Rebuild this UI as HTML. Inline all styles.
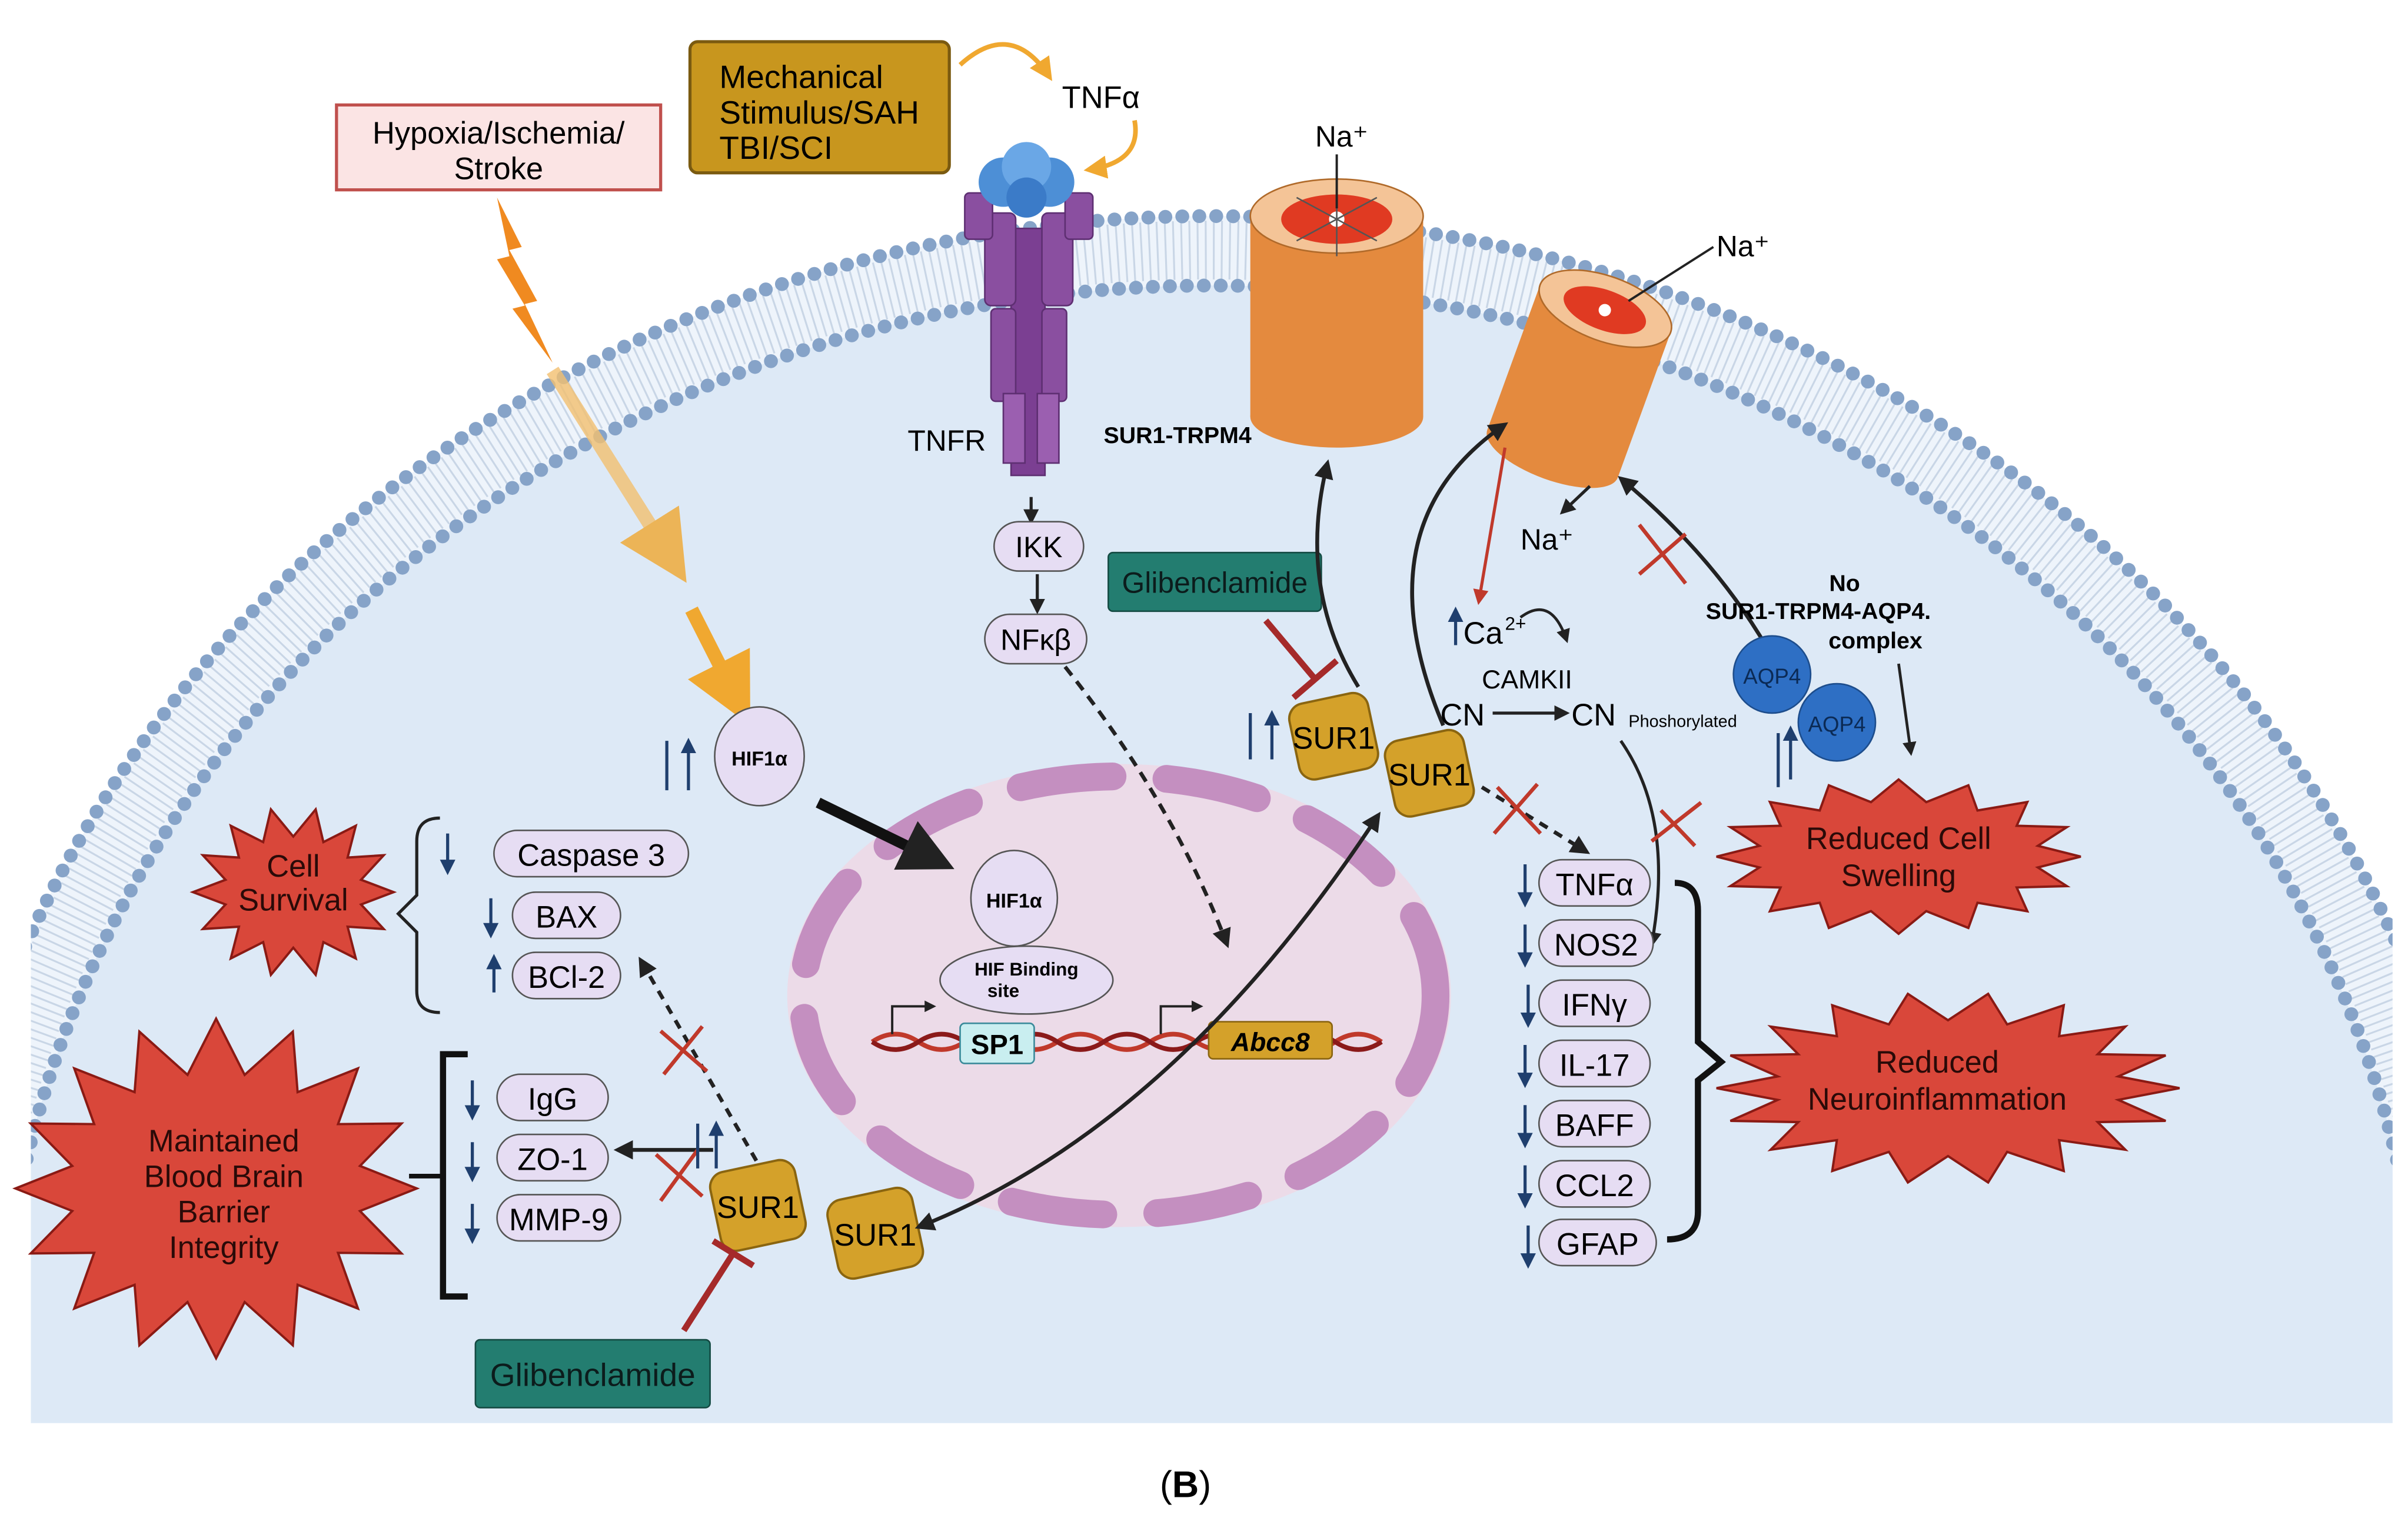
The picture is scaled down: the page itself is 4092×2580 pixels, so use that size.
<!DOCTYPE html>
<html><head><meta charset="utf-8"><style>
html,body{margin:0;padding:0;background:#fff;overflow:hidden;width:4092px;height:2580px;}
svg{display:block;}
text{font-family:"Liberation Sans",sans-serif;}
</style></head><body>
<svg width="4092" height="2580" viewBox="0 0 1560 983.5" preserveAspectRatio="none" xmlns="http://www.w3.org/2000/svg">
<defs>
<clipPath id="cl"><rect x="20" y="0" width="1530" height="922"/></clipPath>
<marker id="ab" viewBox="0 0 10 10" refX="8" refY="5" markerWidth="5" markerHeight="5" orient="auto"><path d="M0,0L10,5L0,10z" fill="#222"/></marker>
<marker id="ar" viewBox="0 0 10 10" refX="8" refY="5" markerWidth="5" markerHeight="5" orient="auto"><path d="M0,0L10,5L0,10z" fill="#c0392b"/></marker>
<marker id="ao" viewBox="0 0 10 10" refX="8" refY="5" markerWidth="5" markerHeight="5" orient="auto"><path d="M0,0L10,5L0,10z" fill="#f0a830"/></marker>
<marker id="abl" viewBox="0 0 10 10" refX="8" refY="5" markerWidth="5" markerHeight="5" orient="auto"><path d="M0,0L10,5L0,10z" fill="#1f3f6e"/></marker>
<marker id="abs" viewBox="0 0 10 10" refX="2" refY="5" markerWidth="5" markerHeight="5" orient="auto"><path d="M10,0L0,5L10,10z" fill="#222"/></marker>
</defs>
<rect width="1560" height="983.5" fill="#fff"/>
<g clip-path="url(#cl)">
 <ellipse cx="785" cy="900" rx="830" ry="760" fill="#eef4fb"/>
 <ellipse cx="785" cy="900" rx="808" ry="738" fill="none" stroke="#c9d6e6" stroke-width="38" stroke-dasharray="1.2 4"/>
 <ellipse cx="785" cy="900" rx="785" ry="715" fill="#dde9f6"/>
 <ellipse cx="785" cy="900" rx="830" ry="760" fill="none" stroke="#86a3c8" stroke-width="9" stroke-linecap="round" stroke-dasharray="0 11"/>
 <ellipse cx="785" cy="900" rx="785" ry="715" fill="none" stroke="#86a3c8" stroke-width="9" stroke-linecap="round" stroke-dasharray="0 11"/>
</g>
<!-- nucleus -->
<ellipse cx="725" cy="645" rx="215" ry="150" fill="#ecdbe8"/>
<ellipse cx="725" cy="645" rx="205" ry="142" fill="none" stroke="#c48fc0" stroke-width="18" stroke-linecap="round" stroke-dasharray="60 35"/>
<!-- hypoxia -->
<rect x="218" y="68" width="210" height="55" fill="#fbe4e4" stroke="#c0504d" stroke-width="2"/>
<text x="323" y="93" font-size="20" text-anchor="middle">Hypoxia/Ischemia/</text>
<text x="323" y="116" font-size="20" text-anchor="middle">Stroke</text>
<path d="M322,128 L338,160 L330,162 L348,195 L340,197 L358,235 L332,200 L340,198 L322,168 L330,166 Z" fill="#f08a20"/>
<path d="M358,240 L440,370" stroke="#f3c070" stroke-width="9" opacity="0.8" marker-end="url(#ao)"/>
<path d="M448,395 L482,462" stroke="#f0a830" stroke-width="9" marker-end="url(#ao)"/>
<!-- mechanical -->
<rect x="447" y="27" width="168" height="85" rx="5" fill="#c8961e" stroke="#7a5a10" stroke-width="2"/>
<text x="466" y="57" font-size="21">Mechanical</text>
<text x="466" y="80" font-size="21">Stimulus/SAH</text>
<text x="466" y="103" font-size="21">TBI/SCI</text>
<path d="M622,42 Q655,12 680,50" fill="none" stroke="#f0a830" stroke-width="3" marker-end="url(#ao)"/>
<text x="688" y="70" font-size="20">TNFα</text>
<path d="M735,78 Q740,105 705,110" fill="none" stroke="#f0a830" stroke-width="3" marker-end="url(#ao)"/>
<!-- TNFR -->
<g fill="#8a4fa0" stroke="#5e2f72" stroke-width="1">
<rect x="655" y="148" width="22" height="160" fill="#7b3f92"/>
<rect x="638" y="138" width="20" height="60" rx="4"/>
<rect x="675" y="138" width="20" height="60" rx="4"/>
<rect x="625" y="125" width="18" height="30" rx="3"/>
<rect x="690" y="125" width="18" height="30" rx="3"/>
<rect x="642" y="200" width="16" height="60" rx="3"/>
<rect x="675" y="200" width="16" height="60" rx="3"/>
<rect x="650" y="255" width="14" height="45" fill="#9b5fb0"/>
<rect x="672" y="255" width="14" height="45" fill="#9b5fb0"/>
</g>
<circle cx="650" cy="118" r="16" fill="#4d8fd6"/><circle cx="680" cy="118" r="16" fill="#4d8fd6"/><circle cx="665" cy="108" r="16" fill="#6aa7e6"/><circle cx="665" cy="128" r="13" fill="#3b7bc8"/>
<text x="588" y="292" font-size="19">TNFR</text>
<path d="M668,322 L668,338" stroke="#222" stroke-width="2" marker-end="url(#ab)"/>
<rect x="644" y="338" width="58" height="32" rx="16" fill="#e6ddf3" stroke="#555"/>
<text x="673" y="361" font-size="19" text-anchor="middle">IKK</text>
<path d="M672,372 L672,396" stroke="#222" stroke-width="2" marker-end="url(#ab)"/>
<rect x="638" y="398" width="66" height="32" rx="16" fill="#e6ddf3" stroke="#555"/>
<text x="671" y="421" font-size="19" text-anchor="middle">NFκβ</text>
<path d="M690,432 Q760,520 795,612" fill="none" stroke="#222" stroke-width="2.5" stroke-dasharray="7 5" marker-end="url(#ab)"/>
<!-- channels -->
<rect x="810" y="140" width="112" height="130" fill="#e48a3e"/>
<ellipse cx="866" cy="270" rx="56" ry="20" fill="#e48a3e"/>
<ellipse cx="866" cy="140" rx="56" ry="24" fill="#f4c497" stroke="#b06a2a"/>
<ellipse cx="866" cy="142" rx="36" ry="16" fill="#e03a22"/>
<circle cx="866" cy="142" r="5" fill="#fff"/>
<path d="M840,128 L892,156 M840,156 L892,128 M866,118 L866,166" stroke="#555" stroke-width="1"/>
<text x="852" y="95" font-size="19">Na⁺</text><path d="M866,100 L866,135" stroke="#222" stroke-width="1.5"/>
<g transform="translate(1040,200) rotate(20)">
<rect x="-45" y="0" width="90" height="100" fill="#e48a3e"/>
<ellipse cx="0" cy="100" rx="45" ry="17" fill="#e48a3e"/>
<ellipse cx="0" cy="0" rx="45" ry="21" fill="#f4c497" stroke="#b06a2a"/>
<ellipse cx="0" cy="1" rx="28" ry="13" fill="#e03a22"/><circle cx="0" cy="1" r="4" fill="#fff"/>
</g>
<text x="1112" y="166" font-size="19">Na⁺</text><path d="M1110,160 L1055,195" stroke="#222" stroke-width="1.5"/>
<text x="715" y="287" font-size="15" font-weight="bold">SUR1-TRPM4</text>
<!-- glibenclamide top -->
<rect x="718" y="358" width="138" height="38" rx="3" fill="#237d70" stroke="#144a42"/>
<text x="787" y="384" font-size="19" text-anchor="middle" fill="#0c1c1c">Glibenclamide</text>
<path d="M820,402 L852,440 M838,452 L866,428" stroke="#a52a2a" stroke-width="4"/>
<!-- arrows SUR1 -->
<path d="M880,445 Q840,380 860,300" fill="none" stroke="#222" stroke-width="2.5" marker-end="url(#ab)"/>
<path d="M935,470 Q880,340 975,275" fill="none" stroke="#222" stroke-width="2.5" marker-end="url(#ab)"/>
<path d="M975,290 L958,390" stroke="#c0392b" stroke-width="2" marker-end="url(#ar)"/>
<path d="M1030,315 L1012,332" stroke="#222" stroke-width="2" marker-end="url(#ab)"/>
<text x="985" y="356" font-size="19">Na⁺</text>
<path d="M1145,420 Q1110,360 1050,310" fill="none" stroke="#222" stroke-width="2.5" marker-end="url(#ab)"/>
<path d="M1062,340 L1092,378 M1092,346 L1062,372" stroke="#c0392b" stroke-width="2.5"/>
<path d="M943,418 L943,395" stroke="#1f3f6e" stroke-width="2" marker-end="url(#abl)"/>
<text x="948" y="417" font-size="20">Ca</text><text x="975" y="408" font-size="12">2+</text>
<path d="M985,400 Q1005,385 1015,415" fill="none" stroke="#222" stroke-width="1.8" marker-end="url(#ab)"/>
<text x="960" y="446" font-size="17">CAMKII</text>
<text x="933" y="470" font-size="20">CN</text>
<path d="M967,462 L1015,462" stroke="#222" stroke-width="2" marker-end="url(#ab)"/>
<text x="1018" y="470" font-size="20">CN</text>
<text x="1055" y="471" font-size="11">Phoshorylated</text>
<circle cx="1148" cy="437" r="25" fill="#2e6fc4" stroke="#1d4d8c"/><text x="1148" y="443" font-size="14" text-anchor="middle" fill="#0b2a55">AQP4</text>
<circle cx="1190" cy="468" r="25" fill="#2e6fc4" stroke="#1d4d8c"/><text x="1190" y="474" font-size="14" text-anchor="middle" fill="#0b2a55">AQP4</text>
<text x="1195" y="383" font-size="15" font-weight="bold" text-anchor="middle">No</text>
<text x="1178" y="401" font-size="15" font-weight="bold" text-anchor="middle">SUR1-TRPM4-AQP4.</text>
<text x="1215" y="420" font-size="15" font-weight="bold" text-anchor="middle">complex</text>
<path d="M1152,510 L1152,475 M1160,505 L1160,472" stroke="#1f3f6e" stroke-width="2" marker-end="url(#abl)"/>
<path d="M1230,430 L1238,488" stroke="#222" stroke-width="1.8" marker-end="url(#ab)"/>
<path d="M1050,480 Q1085,530 1070,612" fill="none" stroke="#222" stroke-width="2" marker-end="url(#ab)"/>
<path d="M1070,545 L1102,520 M1076,525 L1098,548" stroke="#c0392b" stroke-width="2.5"/>
<path d="M960,510 L1028,552" stroke="#222" stroke-width="2.5" stroke-dasharray="6 5" marker-end="url(#ab)"/>
<path d="M970,510 L998,540 M996,508 L968,540" stroke="#c0392b" stroke-width="2.5"/>
<!-- SUR1 shapes -->
<g fill="#d4a12a" stroke="#8a6510" stroke-width="1.5">
<rect x="838" y="452" width="52" height="50" rx="10" transform="rotate(-12 864 477)"/>
<rect x="900" y="476" width="52" height="50" rx="10" transform="rotate(-12 926 501)"/>
<rect x="463" y="755" width="56" height="52" rx="10" transform="rotate(-12 491 781)"/>
<rect x="539" y="773" width="56" height="52" rx="10" transform="rotate(-12 567 799)"/>
</g>
<text x="864" y="485" font-size="20" text-anchor="middle">SUR1</text>
<text x="926" y="509" font-size="20" text-anchor="middle">SUR1</text>
<text x="491" y="789" font-size="20" text-anchor="middle">SUR1</text>
<text x="567" y="807" font-size="20" text-anchor="middle">SUR1</text>
<path d="M810,492 L810,462 M824,492 L824,462" stroke="#1f3f6e" stroke-width="2" marker-end="url(#abl)"/>
<!-- HIF -->
<ellipse cx="492" cy="490" rx="29" ry="32" fill="#e6ddf3" stroke="#555"/>
<text x="492" y="496" font-size="13" font-weight="bold" text-anchor="middle">HIF1α</text>
<path d="M432,512 L432,480 M446,512 L446,480" stroke="#1f3f6e" stroke-width="2" marker-end="url(#abl)"/>
<path d="M530,520 L612,560" stroke="#111" stroke-width="7" marker-end="url(#ab)"/>
<ellipse cx="657" cy="582" rx="28" ry="31" fill="#e6ddf3" stroke="#555"/>
<text x="657" y="588" font-size="13" font-weight="bold" text-anchor="middle">HIF1α</text>
<ellipse cx="665" cy="635" rx="56" ry="22" fill="#e6ddf3" stroke="#555"/>
<text x="665" y="632" font-size="12" font-weight="bold" text-anchor="middle">HIF Binding</text>
<text x="650" y="646" font-size="12" font-weight="bold" text-anchor="middle">site</text>
<path d="M565,675 Q580,665 595,675 T625,675 T655,675 T685,675 T715,675 T745,675 T775,675 T805,675 T835,675 T865,675 T895,675" fill="none" stroke="#c0392b" stroke-width="3"/>
<path d="M565,675 Q580,685 595,675 T625,675 T655,675 T685,675 T715,675 T745,675 T775,675 T805,675 T835,675 T865,675 T895,675" fill="none" stroke="#8b1a1a" stroke-width="3"/>
<path d="M578,670 L578,652 L605,652" fill="none" stroke="#222" stroke-width="1.5" marker-end="url(#ab)"/>
<path d="M752,670 L752,652 L778,652" fill="none" stroke="#222" stroke-width="1.5" marker-end="url(#ab)"/>
<rect x="622" y="663" width="48" height="26" rx="3" fill="#c9eef0" stroke="#3a8a9a"/><text x="646" y="683" font-size="18" font-weight="bold" text-anchor="middle">SP1</text>
<rect x="783" y="662" width="80" height="24" rx="3" fill="#d4a12a" stroke="#8a6510"/><text x="823" y="681" font-size="17" font-weight="bold" font-style="italic" text-anchor="middle">Abcc8</text>
<path d="M595,795 Q760,730 893,528" fill="none" stroke="#222" stroke-width="2.5" marker-start="url(#abs)" marker-end="url(#ab)"/>
<!-- left lists -->
<path d="M285,530 Q270,530 270,545 L270,580 L258,592 L270,604 L270,642 Q270,656 285,656" fill="none" stroke="#222" stroke-width="2"/>
<g fill="#e6ddf3" stroke="#555">
<rect x="320" y="538" width="126" height="30" rx="15"/>
<rect x="332" y="578" width="70" height="30" rx="15"/>
<rect x="332" y="617" width="70" height="30" rx="15"/>
<rect x="322" y="696" width="72" height="30" rx="15"/>
<rect x="322" y="735" width="72" height="30" rx="15"/>
<rect x="322" y="774" width="80" height="30" rx="15"/>
</g>
<text x="383" y="561" font-size="20" text-anchor="middle">Caspase 3</text>
<text x="367" y="601" font-size="20" text-anchor="middle">BAX</text>
<text x="367" y="640" font-size="20" text-anchor="middle">BCl-2</text>
<text x="358" y="719" font-size="20" text-anchor="middle">IgG</text>
<text x="358" y="758" font-size="20" text-anchor="middle">ZO-1</text>
<text x="362" y="797" font-size="20" text-anchor="middle">MMP-9</text>
<g stroke="#1f3f6e" stroke-width="2">
<path d="M290,540 L290,565" marker-end="url(#abl)"/><path d="M318,582 L318,606" marker-end="url(#abl)"/><path d="M320,643 L320,620" marker-end="url(#abl)"/>
<path d="M306,700 L306,724" marker-end="url(#abl)"/><path d="M306,740 L306,764" marker-end="url(#abl)"/><path d="M306,780 L306,804" marker-end="url(#abl)"/>
</g>
<path d="M303,683 L287,683 L287,840 L303,840" fill="none" stroke="#111" stroke-width="4"/>
<path d="M288,762 L265,762" stroke="#111" stroke-width="3"/>
<path d="M490,752 L415,622" stroke="#222" stroke-width="2.5" stroke-dasharray="6 5" marker-end="url(#ab)"/>
<path d="M428,668 L458,694 M455,665 L430,696" stroke="#c0392b" stroke-width="2.5"/>
<path d="M462,745 L400,745" stroke="#222" stroke-width="2.5" marker-end="url(#ab)"/>
<path d="M425,748 L455,775 M452,745 L428,778" stroke="#c0392b" stroke-width="2.5"/>
<path d="M452,757 L452,728 M464,757 L464,728" stroke="#1f3f6e" stroke-width="2" marker-end="url(#abl)"/>
<rect x="308" y="868" width="152" height="44" rx="3" fill="#237d70" stroke="#144a42"/>
<text x="384" y="898" font-size="21" text-anchor="middle" fill="#0c1c1c">Glibenclamide</text>
<path d="M443,862 L475,812 M462,804 L488,820" stroke="#a52a2a" stroke-width="4"/>
<!-- right list -->
<g fill="#e6ddf3" stroke="#555">
<rect x="997" y="557" width="72" height="30" rx="15"/>
<rect x="997" y="596" width="74" height="30" rx="15"/>
<rect x="997" y="635" width="72" height="30" rx="15"/>
<rect x="997" y="674" width="72" height="30" rx="15"/>
<rect x="997" y="713" width="72" height="30" rx="15"/>
<rect x="997" y="752" width="72" height="30" rx="15"/>
<rect x="997" y="790" width="76" height="30" rx="15"/>
</g>
<g font-size="20" text-anchor="middle">
<text x="1033" y="580">TNFα</text><text x="1034" y="619">NOS2</text><text x="1033" y="658">IFNγ</text><text x="1033" y="697">IL-17</text><text x="1033" y="736">BAFF</text><text x="1033" y="775">CCL2</text><text x="1035" y="813">GFAP</text>
</g>
<g stroke="#1f3f6e" stroke-width="2">
<path d="M988,560 L988,586" marker-end="url(#abl)"/><path d="M988,599 L988,625" marker-end="url(#abl)"/><path d="M990,638 L990,664" marker-end="url(#abl)"/><path d="M988,677 L988,703" marker-end="url(#abl)"/><path d="M988,716 L988,742" marker-end="url(#abl)"/><path d="M988,755 L988,781" marker-end="url(#abl)"/><path d="M990,794 L990,820" marker-end="url(#abl)"/>
</g>
<path d="M1085,572 Q1100,572 1100,590 L1100,675 L1115,688 L1100,700 L1100,785 Q1100,803 1080,803" fill="none" stroke="#111" stroke-width="4"/>
<!-- starbursts -->
<g id="stars" fill="#d9473a" stroke="#8a1a14" stroke-width="1.5"></g>
<g font-size="20" text-anchor="middle" fill="#2a0a08">
<text x="190" y="568">Cell</text><text x="190" y="590">Survival</text>
<text x="145" y="746">Maintained</text><text x="145" y="769">Blood Brain</text><text x="145" y="792">Barrier</text><text x="145" y="815">Integrity</text>
<text x="1230" y="550">Reduced Cell</text><text x="1230" y="574">Swelling</text>
<text x="1255" y="695">Reduced</text><text x="1255" y="719">Neuroinflammation</text>
</g>
<text x="768" y="970" font-size="24" font-family="Liberation Serif" text-anchor="middle">(<tspan font-weight="bold">B</tspan>)</text>
<script>
function star(cx,cy,rx,ry,irx,iry,n){var p=[];for(var i=0;i<2*n;i++){var a=Math.PI*i/n;var o=i%2==0;p.push((cx+Math.cos(a)*(o?rx:irx)).toFixed(1)+','+(cy+Math.sin(a)*(o?ry:iry)).toFixed(1));}
var e=document.createElementNS('http://www.w3.org/2000/svg','polygon');e.setAttribute('points',p.join(' '));document.getElementById('stars').appendChild(e);}
star(190,578,65,55,45,36,14);
star(140,770,130,110,95,75,16);
star(1230,555,118,50,92,36,16);
star(1262,705,150,62,112,44,18);
</script>
</svg>
</body></html>
